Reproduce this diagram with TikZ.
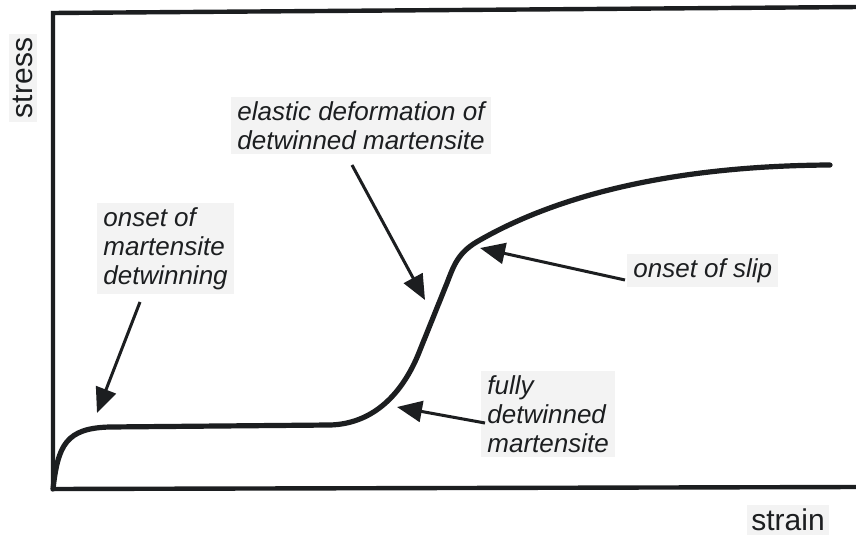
\documentclass[tikz,border=0pt]{standalone}
\usepackage{fontspec}
\setmainfont{Liberation Sans}
\usetikzlibrary{arrows.meta}
\definecolor{ink}{RGB}{28,30,32}
\definecolor{patch}{RGB}{243,243,243}
\tikzset{
  frame/.style={draw=ink, line width=2.2pt, line join=miter},
  curve/.style={draw=ink, line width=2.6pt, line cap=round},
  pointer/.style={draw=ink, line width=1.5pt, -{Triangle[length=12.5pt,width=10.5pt]}},
  note/.style={fill=patch, text=ink, inner xsep=3pt, inner ysep=2pt, anchor=north west,
    align=left, font=\fontsize{13}{14.6}\selectfont\itshape},
  axislabel/.style={fill=patch, text=ink, inner sep=2pt, font=\fontsize{15}{18}\selectfont}
}
\begin{document}
\begin{tikzpicture}[x=0.5pt,y=-0.5pt]
\useasboundingbox (0,0) rectangle (856,539);
\fill[white] (0,0) rectangle (856,539);
\begin{scope}
\clip (0,0) rectangle (856,539);
% frame
\draw[frame] (860,7) -- (53,13) -- (53,489) -- (860,487);
% labels
\node[note] (lDet) at (97,203) {onset of\\martensite\\detwinning};
\node[note] (lEla) at (231,97) {elastic deformation of\\detwinned martensite};
\node[note] (lSlip) at (627,254) {onset of slip};
\node[note] (lFull) at (481,371) {fully\\detwinned\\martensite};
\node[axislabel, rotate=90] (lStress) at (23,78) {stress};
\node[axislabel] (lStrain) at (788,520) {strain};
% curve
\draw[curve] (53,489) .. controls (58,445) and (66,428) .. (110,427)
  -- (330,425) .. controls (370,424) and (400,398) .. (418,355)
  -- (447,283) .. controls (454,265) and (458,252) .. (480,240)
  .. controls (550,200) and (660,166) .. (830,165);
% arrow ends
\coordinate (t1) at (140,302); \coordinate (h1) at (97,413);
\coordinate (t2) at (352,165); \coordinate (h2) at (425,300);
\coordinate (t3) at (625,280); \coordinate (h3) at (480,248);
\coordinate (t4) at (485,423); \coordinate (h4) at (397,407);
\draw[pointer] (t1) -- (h1);
\draw[pointer] (t2) -- (h2);
\draw[pointer] (t3) -- (h3);
\draw[pointer] (t4) -- (h4);
\end{scope}
\end{tikzpicture}
\end{document}
